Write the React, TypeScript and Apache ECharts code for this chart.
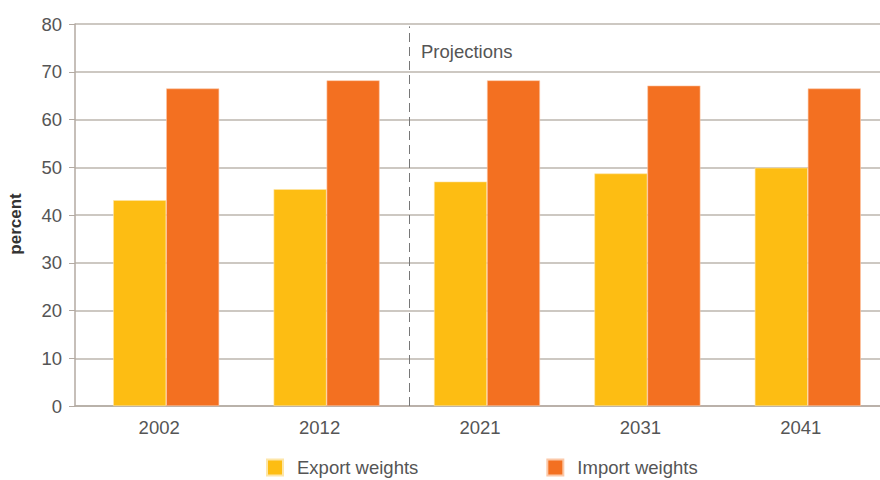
import React, { useEffect, useRef } from "react";
import * as echarts from "echarts";

const categories = ["2002", "2012", "2021", "2031", "2041"];
const exportWeights = [43.1, 45.4, 47.0, 48.7, 49.9];
const importWeights = [66.5, 68.2, 68.2, 67.1, 66.5];
const yTicks = { min: 0, max: 80, interval: 10 };
const projectionBoundary = 2.015; // boundary between 2012 and 2021
const FONT = "'Liberation Sans', Arial, Helvetica, sans-serif";
const FS = 18.5;

export default function App() {
  const ref = useRef<HTMLDivElement>(null);
  useEffect(() => {
    if (!ref.current) return;
    const chart = echarts.init(ref.current, null, { renderer: "svg" });
    const gridTop = 24;
    const gridBottom = 74;
    chart.setOption({
      animation: false,
      textStyle: { fontFamily: FONT },
      grid: [
        { left: 75, right: 0, top: gridTop, bottom: gridBottom, outerBoundsMode: "none", containLabel: false },
        { left: 86, right: -8, top: gridTop, bottom: gridBottom, outerBoundsMode: "none", containLabel: false },
      ],
      legend: {
        left: 266,
        top: 458,
        padding: 0,
        icon: "rect",
        itemWidth: 16,
        itemHeight: 16,
        itemGap: 128,
        textStyle: { fontSize: FS, color: "#555", fontFamily: FONT, padding: [0, 0, 0, 9] },
        data: ["Export weights", "Import weights"],
      },
      xAxis: [
        {
          type: "category",
          gridIndex: 0,
          data: categories,
          axisLine: { show: true, lineStyle: { color: "#b3aaa2", width: 1.5 } },
          axisTick: { show: false },
          axisLabel: { show: false },
        },
        {
          type: "category",
          gridIndex: 1,
          data: categories,
          axisLine: { show: false },
          axisTick: { show: false },
          axisLabel: {
            fontSize: FS,
            color: "#555",
            fontFamily: FONT,
            margin: 12,
            padding: [0, 14, 0, 0],
          },
        },
        {
          type: "value",
          gridIndex: 1,
          min: 0,
          max: 5,
          show: false,
        },
      ],
      yAxis: [
        {
          type: "value",
          gridIndex: 0,
          min: yTicks.min,
          max: yTicks.max,
          interval: yTicks.interval,
          name: "percent",
          nameLocation: "middle",
          nameGap: 51,
          nameTextStyle: {
            fontSize: 17,
            fontWeight: "bold",
            color: "#333",
            fontFamily: FONT,
            padding: [0, 18, 0, 0],
          },
          axisLine: { show: true, lineStyle: { color: "#b3aaa2", width: 1.5 } },
          axisTick: { show: true, length: 6, lineStyle: { color: "#b3aaa2" } },
          axisLabel: { fontSize: FS, color: "#555", fontFamily: FONT, margin: 13 },
          splitLine: { show: true, lineStyle: { color: "#bdb6ae", width: 1.5 } },
        },
        {
          type: "value",
          gridIndex: 1,
          min: yTicks.min,
          max: yTicks.max,
          interval: yTicks.interval,
          show: false,
          splitLine: { show: false },
        },
      ],
      series: [
        {
          name: "Export weights",
          type: "bar",
          xAxisIndex: 1,
          yAxisIndex: 1,
          data: exportWeights,
          barWidth: 53,
          barGap: "0%",
          itemStyle: { color: "#FDBD13", borderColor: "#fde6a8", borderWidth: 0.6 },
        },
        {
          name: "Import weights",
          type: "bar",
          xAxisIndex: 1,
          yAxisIndex: 1,
          data: importWeights,
          barWidth: 53,
          barGap: "0%",
          itemStyle: { color: "#F37021", borderColor: "#fbc8a8", borderWidth: 0.6 },
        },
        {
          name: "divider",
          type: "scatter",
          xAxisIndex: 2,
          yAxisIndex: 1,
          data: [],
          silent: true,
          markLine: {
            silent: true,
            symbol: "none",
            label: { show: false },
            lineStyle: { color: "#777", type: [9, 5], width: 1 },
            data: [[{ coord: [projectionBoundary, 0] }, { coord: [projectionBoundary, 79.5] }]],
          },
        },
      ],
      graphic: [
        {
          type: "text",
          left: 421,
          top: 42,
          style: {
            text: "Projections",
            fontSize: FS,
            fill: "#555",
            fontFamily: FONT,
          },
        },
      ],
    });
    return () => chart.dispose();
  }, []);
  return (
    <div
      ref={ref}
      style={{ position: "absolute", left: 0, top: 0, width: 880, height: 480 }}
    />
  );
}
